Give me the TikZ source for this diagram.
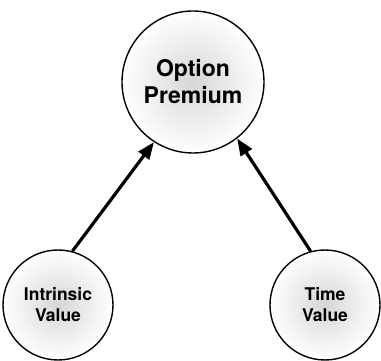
\documentclass[tikz,border=0pt]{standalone}
\usepackage{fontspec}
\setmainfont{TeX Gyre Heros}
\usetikzlibrary{arrows.meta}

\begin{document}
\begin{tikzpicture}[x=1pt, y=-1pt,
  valuenode/.style={circle, draw=black, line width=1.4pt, shading=radial,
    inner color=black!16, outer color=white, align=center, inner sep=0pt},
  bignode/.style={valuenode, minimum size=142pt, font=\bfseries\fontsize{23}{27}\selectfont},
  smallnode/.style={valuenode, minimum size=110pt, font=\bfseries\fontsize{17.5}{21}\selectfont},
  feed/.style={-{Triangle[length=17pt,width=13pt]}, line width=3.2pt}]
\useasboundingbox (0,0) rectangle (381,361);

\node[bignode] (premium) at (193,82) {Option\\Premium};
\node[smallnode] (intrinsic) at (58,305) {Intrinsic\\Value};
\node[smallnode] (time) at (325,305) {Time\\Value};

\draw[feed] (intrinsic.75) -- (premium.237);
\draw[feed] (time.105) -- (premium.-52);
\end{tikzpicture}
\end{document}
